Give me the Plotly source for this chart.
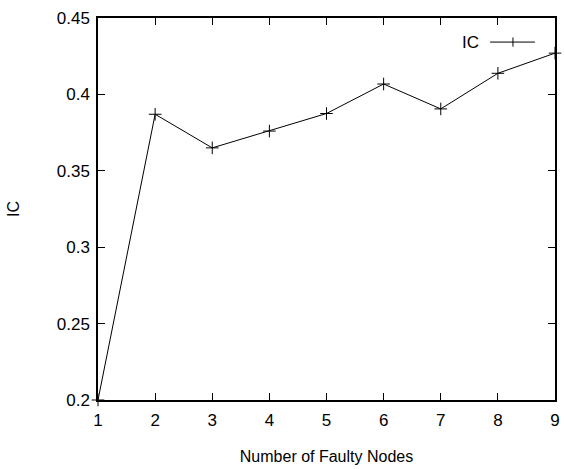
import plotly.graph_objects as go

faulty_nodes = [1, 2, 3, 4, 5, 6, 7, 8, 9]
ic_values = [0.200, 0.387, 0.365, 0.376, 0.3875, 0.4068, 0.3905, 0.4138, 0.427]
x_ticks = [1, 2, 3, 4, 5, 6, 7, 8, 9]
y_ticks = [0.2, 0.25, 0.3, 0.35, 0.4, 0.45]
y_tick_labels = ["0.2", "0.25", "0.3", "0.35", "0.4", "0.45"]

FONT = "Liberation Sans Narrow, Arial Narrow, Liberation Sans, sans-serif"

fig = go.Figure()
fig.add_trace(go.Scatter(
    x=faulty_nodes, y=ic_values, mode="lines+markers", name="IC",
    line=dict(color="black", width=1),
    marker=dict(symbol="cross-thin", size=9, line=dict(color="black", width=1)),
    showlegend=False, cliponaxis=False,
))

axis_common = dict(
    showline=True, linecolor="black", linewidth=1.5, mirror="allticks",
    ticks="inside", ticklen=7, tickwidth=1, tickcolor="black",
    showgrid=False, zeroline=False, automargin=False,
    tickfont=dict(family=FONT, size=17, color="black"),
)

fig.update_layout(
    width=565, height=469,
    margin=dict(l=98, r=10, t=18, b=69),
    paper_bgcolor="white", plot_bgcolor="white",
    xaxis=dict(range=[1, 9], tickvals=x_ticks, ticklabelstandoff=4,
               title=dict(text="Number of Faulty Nodes", font=dict(family=FONT, size=16, color="black"), standoff=22),
               **axis_common),
    yaxis=dict(range=[0.2, 0.45], tickvals=y_ticks, ticktext=y_tick_labels, ticklabelstandoff=3,
               title=dict(text="IC", font=dict(family=FONT, size=16, color="black"), standoff=33),
               **axis_common),
    font=dict(family=FONT, color="black"),
)

# manual gnuplot-style legend (text left of sample)
fig.add_annotation(xref="paper", yref="paper", x=0.838, y=0.937, text="IC",
                   showarrow=False, xanchor="right", yanchor="middle",
                   font=dict(family=FONT, size=17, color="black"))
fig.add_shape(type="line", xref="paper", yref="paper", x0=0.858, x1=0.956, y0=0.937, y1=0.937,
              line=dict(color="black", width=1))
fig.add_shape(type="line", xref="paper", yref="paper", x0=0.908, x1=0.908, y0=0.925, y1=0.949,
              line=dict(color="black", width=1))

fig.write_html("out.html", config={"displayModeBar": False},
               post_script="document.body.style.margin='0px';")
